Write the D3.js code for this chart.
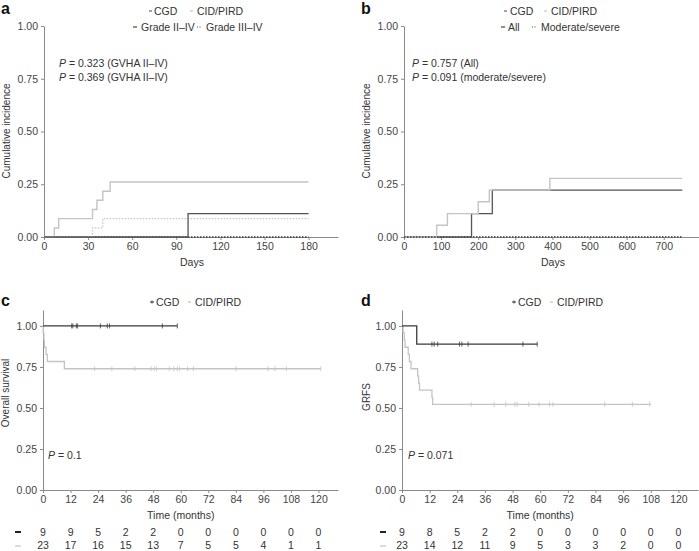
<!DOCTYPE html>
<html><head><meta charset="utf-8">
<script src="https://cdn.jsdelivr.net/npm/d3@7"></script>
<style>
body{margin:0;background:#fff;}
svg{display:block;font-family:"Liberation Sans",Arial,Helvetica,sans-serif;}
.axis path,.axis line{stroke:#8a8a8a;}
.axis text{fill:#444;font-size:10.5px;}
</style></head><body>
<svg id="c" width="699" height="551"></svg>
<script>
// ---------- DATA ----------
// Panel a: acute GVHD cumulative incidence (days)
const aTicksX = [0,30,60,90,120,150,180];
const aCidGrade2 = [[0,0],[7,0.043],[10,0.087],[33,0.130],[36,0.174],[40,0.217],[45,0.261],[180,0.261]];
const aCidGrade3 = [[0,0],[33,0.043],[40,0.087],[180,0.087]];
const aCgdGrade2 = [[0,0],[98,0.111],[180,0.111]];
const aCgdGrade3 = [[0,0],[180,0]];
const aPText = ["0.323 (GVHA II\u2013IV)","0.369 (GVHA II\u2013IV)"];

// Panel b: chronic GVHD cumulative incidence (days)
const bTicksX = [0,100,200,300,400,500,600,700];
const bCidAll = [[0,0],[88,0.056],[117,0.111],[200,0.167],[230,0.222],[393,0.278],[750,0.278]];
const bCgdAll = [[0,0],[182,0.111],[238,0.222],[750,0.222]];
const bCidMod = [[0,0],[750,0]];
const bCgdMod = [[0,0],[750,0]];
const bPText = ["0.757 (All)","0.091 (moderate/severe)"];

const yTicks = [0,0.25,0.5,0.75,1];

// Panel c: overall survival (months)
const kmTicksX = [0,12,24,36,48,60,72,84,96,108,120];
const cCgd = [[0,1],[58.5,1]];
const cCgdCensor = [12.5,13,14.5,15,25,28,29,52,58.5];
const cCid = [[0,1],[0.1,0.957],[0.4,0.913],[0.6,0.870],[1.3,0.826],[1.9,0.783],[9.3,0.739],[121,0.739]];
const cCidCensor = [22.5,30,40,47,48.5,49.5,55,57,58.5,59.5,63,65.5,84,98,101,106,121];
const cRiskCgd = [9,9,5,2,2,0,0,0,0,0,0];
const cRiskCid = [23,17,16,15,13,7,5,5,4,1,1];

// Panel d: GRFS (months)
const dCgd = [[0,1],[6.4,0.889],[58.7,0.889]];
const dCgdCensor = [13,14,15.5,25,26,28.7,52.5,58.7];
const dCid = [[0,1],[0.5,0.957],[1.0,0.913],[1.3,0.870],[2.7,0.826],[3.2,0.783],[3.9,0.739],[6.8,0.696],[7.2,0.652],[7.6,0.609],[13,0.565],[13.3,0.522],[108,0.522]];
const dCidCensor = [30,40,45,49,50,55,59.5,64,65.5,88,100,107.5];
const dRiskCgd = [9,8,5,2,2,0,0,0,0,0,0];
const dRiskCid = [23,14,12,11,9,5,3,3,2,0,0];

// ---------- DRAWING ----------
const DARK = "#3a3a3a", LIGHT = "#c4c4c4", TXT = "#333", FS = 10;
const svg = d3.select("#c");

function axes(g, x, y, yT, xT){
  g.append("g").attr("class","axis").attr("transform",`translate(0,${y(0)})`)
    .call(d3.axisBottom(x).tickValues(xT).tickSize(3).tickPadding(3).tickSizeOuter(0));
  g.append("g").attr("class","axis").attr("transform",`translate(${x(0)},0)`)
    .call(d3.axisLeft(y).tickValues(yT).tickSize(3).tickPadding(3).tickSizeOuter(0).tickFormat(d3.format(".2f")));
}
function step(g, x, y, data, color, dash, w){
  const line = d3.line().x(d=>x(d[0])).y(d=>y(d[1])).curve(d3.curveStepAfter);
  g.append("path").datum(data).attr("d",line).attr("fill","none")
    .attr("stroke",color).attr("stroke-width",w||1.3).attr("stroke-dasharray",dash||null);
}
function censor(g, x, y, times, curve, color){
  const val = t => { let v = curve[0][1]; curve.forEach(p=>{ if(p[0]<=t) v=p[1]; }); return v; };
  g.selectAll(null).data(times).enter().append("line")
    .attr("x1",d=>x(d)).attr("x2",d=>x(d)).attr("y1",d=>y(val(d))-2.5).attr("y2",d=>y(val(d))+2.5)
    .attr("stroke",color).attr("stroke-width",0.8);
}
function txt(g, x, y, s, opts){
  opts = opts||{};
  const t = g.append("text").attr("x",x).attr("y",y).attr("fill",opts.fill||TXT)
    .attr("font-size",opts.size||FS).attr("text-anchor",opts.anchor||"start");
  if(opts.weight) t.attr("font-weight",opts.weight);
  if(opts.rot) t.attr("transform",`rotate(-90,${x},${y})`);
  t.text(s); return t;
}
function legDash(g, x1, x2, y, color, dash, w){
  g.append("line").attr("x1",x1).attr("x2",x2).attr("y1",y).attr("y2",y)
    .attr("stroke",color).attr("stroke-width",w||1.2).attr("stroke-dasharray",dash||null);
}
function pText(g, x, y, s){
  const t = g.append("text").attr("x",x).attr("y",y).attr("fill",TXT).attr("font-size",FS+0.5);
  t.append("tspan").attr("font-style","italic").text("P");
  t.append("tspan").text(" = "+s);
}

// Panel a
{
  const g = svg.append("g");
  const x = d3.scaleLinear().domain([0,200]).range([44,338]);
  const y = d3.scaleLinear().domain([0,1]).range([237,26]);
  axes(g,x,y,yTicks,aTicksX);
  step(g,x,y,aCgdGrade3,DARK,"1.5,1.5",1.3);
  step(g,x,y,aCidGrade3,LIGHT,"1.5,1.5",1.2);
  step(g,x,y,aCidGrade2,LIGHT,null,1.4);
  step(g,x,y,aCgdGrade2,"#555",null,1.3);
  txt(g,1,14,"a",{size:16,weight:"bold",fill:"#111"});
  legDash(g,149,152,11,"#666"); txt(g,154,15,"CGD",{size:10.5});
  legDash(g,190,193,11,LIGHT); txt(g,197,15,"CID/PIRD",{size:10.5});
  legDash(g,133,137,27,"#444"); txt(g,141,31,"Grade II\u2013IV",{size:10.5});
  legDash(g,197,202,27,"#444","1,1.5"); txt(g,206,31,"Grade III\u2013IV",{size:10.5});
  pText(g,59,67,aPText[0]); pText(g,59,81,aPText[1]);
  txt(g,192,266,"Days",{anchor:"middle",size:10.5});
  txt(g,10,131,"Cumulative incidence",{anchor:"middle",rot:true});
}
// Panel b
{
  const g = svg.append("g");
  const x = d3.scaleLinear().domain([0,795]).range([404,699]);
  const y = d3.scaleLinear().domain([0,1]).range([237,26]);
  axes(g,x,y,yTicks,bTicksX);
  step(g,x,y,bCgdAll,"#555",null,1.3);
  step(g,x,y,bCidAll,LIGHT,null,1.4);
  step(g,x,y,bCidMod,LIGHT,"1.5,1.5",1.2);
  step(g,x,y,bCgdMod,DARK,"1.5,1.5",1.3);
  txt(g,361,14,"b",{size:16,weight:"bold",fill:"#111"});
  legDash(g,504,507,11,"#666"); txt(g,510,15,"CGD",{size:10.5});
  legDash(g,544,547,11,LIGHT); txt(g,551,15,"CID/PIRD",{size:10.5});
  legDash(g,501,505,27,"#444"); txt(g,508,31,"All",{size:10.5});
  legDash(g,532,537,27,"#444","1,1.5"); txt(g,541,31,"Moderate/severe",{size:10.5});
  pText(g,412,67,bPText[0]); pText(g,412,81,bPText[1]);
  txt(g,553,266,"Days",{anchor:"middle",size:10.5});
  txt(g,370,131,"Cumulative incidence",{anchor:"middle",rot:true});
}
// KM panels
function km(o){
  const g = svg.append("g");
  const x = d3.scaleLinear().domain([0,128.5]).range([o.x0,o.x1]);
  const y = d3.scaleLinear().domain([0,1.097]).range([490,310]);
  axes(g,x,y,yTicks,kmTicksX);
  step(g,x,y,o.cid,LIGHT,null,1.3);
  censor(g,x,y,o.cidC,o.cid,LIGHT);
  step(g,x,y,o.cgd,DARK,null,1.3);
  censor(g,x,y,o.cgdC,o.cgd,DARK);
  txt(g,o.lx,306,o.letter,{size:16,weight:"bold",fill:"#111"});
  const L = o.leg;
  g.append("line").attr("x1",L).attr("x2",L+4).attr("y1",302).attr("y2",302).attr("stroke",DARK);
  g.append("line").attr("x1",L+2).attr("x2",L+2).attr("y1",300.5).attr("y2",303.5).attr("stroke",DARK);
  txt(g,L+6,306,"CGD",{size:10.5});
  legDash(g,L+38,L+41,302,LIGHT); txt(g,L+45,306,"CID/PIRD",{size:10.5});
  pText(g,o.px,459,o.p);
  txt(g,(x(0)+x(120))/2,519,"Time (months)",{anchor:"middle",size:10.5});
  txt(g,o.ylx,o.yly,o.ylab,{anchor:"middle",rot:true});
  legDash(g,o.dash,o.dash+6,532,"#222",null,2);
  legDash(g,o.dash,o.dash+6,546,LIGHT,null,1.2);
  kmTicksX.forEach((t,i)=>{
    txt(g,x(t),535.5,o.rCgd[i],{anchor:"middle",size:10.5});
    txt(g,x(t),549,o.rCid[i],{anchor:"middle",size:10.5});
  });
}
km({x0:43,x1:338,cgd:cCgd,cgdC:cCgdCensor,cid:cCid,cidC:cCidCensor,letter:"c",lx:1,leg:150,
    p:"0.1",px:48,ylab:"Overall survival",ylx:9,yly:393,dash:15,rCgd:cRiskCgd,rCid:cRiskCid});
km({x0:402,x1:698,cgd:dCgd,cgdC:dCgdCensor,cid:dCid,cidC:dCidCensor,letter:"d",lx:361,leg:512,
    p:"0.071",px:408,ylab:"GRFS",ylx:370,yly:397,dash:380,rCgd:dRiskCgd,rCid:dRiskCid});
</script></body></html>
